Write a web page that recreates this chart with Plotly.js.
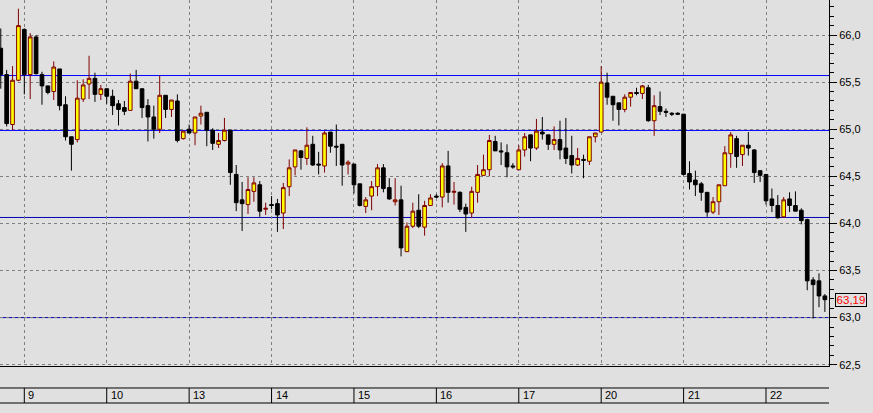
<!DOCTYPE html>
<html><head><meta charset="utf-8">
<script src="https://cdn.plot.ly/plotly-3.0.1.min.js"></script>
<style>html,body{margin:0;padding:0;background:#e0e0e0;overflow:hidden}</style>
</head><body><div id="chart" style="width:873px;height:413px"></div>
<script>
// OHLC of 141 consecutive bars (index 0 = first visible bar)
const open  = [65.86,65.58,65.05,65.52,66.06,65.58,65.98,65.58,65.46,65.40,
               65.64,65.26,64.92,64.89,65.32,65.48,65.54,65.37,65.43,65.35,
               65.27,65.23,65.20,65.51,65.43,65.25,65.13,65.00,65.36,65.21,
               65.30,64.90,65.00,64.96,65.14,65.18,64.99,64.84,64.88,64.99,
               64.52,64.25,64.20,64.34,64.41,64.15,64.20,64.21,64.11,64.39,
               64.60,64.77,64.69,64.84,64.63,64.61,64.97,64.82,64.84,64.63,
               64.63,64.42,64.18,64.29,64.39,64.59,64.38,64.23,64.25,63.70,
               63.97,64.14,63.96,64.19,64.29,64.28,64.61,64.33,64.33,64.17,
               64.11,64.33,64.51,64.57,64.87,64.77,64.75,64.61,64.57,64.78,
               64.94,64.80,64.97,64.94,64.84,64.89,64.80,64.72,64.62,64.68,
               64.66,64.92,64.97,65.49,65.35,65.28,65.21,65.34,65.39,65.38,
               65.44,65.09,65.24,65.19,65.17,65.17,65.16,64.53,64.46,64.42,
               64.33,64.12,64.23,64.40,64.74,64.90,64.73,64.83,64.78,64.56,
               64.52,64.26,64.19,64.07,64.26,64.19,64.14,64.04,63.40,63.39,
               63.23];
const high  = [66.07,65.63,65.67,66.28,66.07,66.02,66.00,65.61,65.46,65.72,
               65.64,65.35,64.92,65.52,65.53,65.78,65.60,65.47,65.43,65.42,
               65.31,65.30,65.59,65.63,65.43,65.32,65.25,65.57,65.36,65.31,
               65.37,64.98,65.05,65.13,65.25,65.18,65.01,64.96,65.12,64.99,
               64.62,64.44,64.49,64.49,64.45,64.22,64.29,64.26,64.43,64.68,
               64.78,64.78,65.02,64.93,64.76,64.98,64.97,65.05,64.84,64.67,
               64.63,64.42,64.28,64.45,64.63,64.63,64.48,64.48,64.40,64.01,
               64.22,64.31,64.24,64.31,64.31,64.64,64.77,64.44,64.34,64.21,
               64.39,64.62,64.73,64.94,64.93,64.86,64.84,64.64,64.83,64.96,
               64.94,65.11,65.13,64.94,65.03,65.09,65.12,64.93,64.80,64.73,
               64.92,64.96,65.67,65.60,65.35,65.28,65.37,65.39,65.44,65.47,
               65.47,65.36,65.40,65.22,65.18,65.18,65.16,64.66,64.56,64.44,
               64.33,64.28,64.41,64.82,64.97,64.93,64.83,64.97,64.79,64.56,
               64.52,64.37,64.30,64.28,64.33,64.34,64.16,64.05,63.43,63.47,
               63.25];
const low   = [65.43,65.03,64.99,65.51,65.37,65.32,65.58,65.26,65.37,65.31,
               65.20,64.88,64.56,64.86,65.29,65.32,65.29,65.31,65.27,65.15,
               65.04,65.15,65.20,65.43,65.12,64.87,64.90,64.96,65.12,65.13,
               64.86,64.89,64.96,64.83,65.05,64.82,64.78,64.80,64.87,64.41,
               64.13,63.92,64.10,64.23,64.07,64.09,64.15,63.91,63.94,64.29,
               64.51,64.57,64.62,64.61,64.52,64.54,64.75,64.61,64.40,64.52,
               64.32,64.18,64.11,64.14,64.29,64.33,64.25,64.19,63.65,63.70,
               63.95,63.95,63.87,64.19,64.27,64.17,64.22,64.20,64.12,63.91,
               64.06,64.22,64.51,64.50,64.77,64.62,64.49,64.58,64.57,64.71,
               64.66,64.78,64.89,64.78,64.78,64.68,64.63,64.53,64.61,64.48,
               64.62,64.86,64.97,65.26,65.09,65.04,65.18,65.24,65.36,65.32,
               65.08,64.93,65.15,65.13,65.14,65.15,64.51,64.36,64.29,64.24,
               64.07,64.10,64.09,64.40,64.59,64.59,64.61,64.72,64.43,64.44,
               64.20,64.12,64.05,64.06,64.12,64.13,63.99,63.29,62.99,63.11,
               63.06];
const close = [65.58,65.06,65.52,66.10,65.58,65.98,65.59,65.46,65.39,65.66,
               65.25,64.92,64.84,65.33,65.47,65.54,65.37,65.43,65.35,65.25,
               65.21,65.19,65.51,65.43,65.23,65.13,65.00,65.36,65.21,65.31,
               64.88,64.98,64.96,65.13,65.17,64.99,64.85,64.88,64.99,64.54,
               64.22,64.21,64.36,64.43,64.13,64.16,64.19,64.09,64.38,64.59,
               64.78,64.70,64.83,64.62,64.62,64.96,64.82,64.81,64.62,64.65,
               64.41,64.19,64.25,64.39,64.59,64.37,64.26,64.25,63.74,63.97,
               64.13,63.97,64.19,64.27,64.28,64.61,64.33,64.34,64.15,64.10,
               64.34,64.52,64.57,64.88,64.77,64.76,64.60,64.60,64.78,64.92,
               64.80,64.98,64.95,64.84,64.89,64.78,64.69,64.62,64.69,64.67,
               64.92,64.96,65.50,65.34,65.26,65.21,65.34,65.39,65.38,65.46,
               65.09,65.25,65.19,65.18,65.16,65.16,64.52,64.44,64.41,64.33,
               64.12,64.23,64.41,64.75,64.94,64.71,64.83,64.80,64.54,64.51,
               64.24,64.19,64.06,64.25,64.19,64.13,64.03,63.39,63.35,63.23,
               63.19];
const xIdx = open.map((_, i) => i);

// day separators: bar index where each trading day starts, and its label
const dayLabels = ['9','10','13','14','15','16','17','20','21','22'];
const dayStart  = [4, 18, 32, 46, 60, 74, 88, 102, 116, 130];

// horizontal price levels drawn across the chart
const levels      = [65.57, 64.987, 64.063, 63.0];
const levelColors = ['#0000ff', '#0000ff', '#0000b4', '#0000b4'];

const lastPrice = close[close.length - 1];

const FONT = 'Liberation Sans, Arial, sans-serif';
const stripTop = -0.0601, stripBot = -0.1011, stripMid = -0.0806;

const shapes = [];
levels.forEach((v, k) => shapes.push({
  type: 'line', xref: 'paper', x0: 0, x1: 1, yref: 'y', y0: v, y1: v,
  line: {color: levelColors[k], width: 1}, layer: 'between'
}));
[stripTop, stripBot].forEach(y => shapes.push({
  type: 'line', xref: 'paper', x0: 0, x1: 1, yref: 'paper', y0: y, y1: y,
  line: {color: '#000', width: 1}
}));
dayStart.forEach(d => shapes.push({
  type: 'line', xref: 'x', x0: d, x1: d, yref: 'paper', y0: stripTop, y1: stripBot,
  line: {color: '#000', width: 1}
}));

const annotations = dayLabels.map((t, k) => ({
  xref: 'x', x: dayStart[k], xanchor: 'left', xshift: 2,
  yref: 'paper', y: stripMid, yanchor: 'middle',
  text: t, showarrow: false, font: {family: FONT, size: 11, color: '#000'}
}));
annotations.push({
  xref: 'paper', x: 1, xanchor: 'left', xshift: 6,
  yref: 'y', y: lastPrice, yanchor: 'middle',
  text: lastPrice.toFixed(2).replace('.', ','), showarrow: false,
  font: {family: FONT, size: 11.5, color: '#ff0000'},
  bordercolor: '#000', borderwidth: 1, borderpad: 0, bgcolor: '#e0e0e0',
  width: 30, height: 11.5
});

const trace = {
  type: 'candlestick', x: xIdx, open: open, high: high, low: low, close: close,
  increasing: {line: {color: '#800000', width: 1}, fillcolor: '#ffff00'},
  decreasing: {line: {color: '#000000', width: 1}, fillcolor: '#000000'},
  whiskerwidth: 0, showlegend: false, hoverinfo: 'skip'
};

const layout = {
  width: 873, height: 413,
  margin: {l: 0, r: 44, t: 0, b: 47, pad: 0},
  paper_bgcolor: '#e0e0e0', plot_bgcolor: '#e0e0e0',
  separators: ',.',
  showlegend: false,
  boxgap: 0.38, boxgroupgap: 0,
  xaxis: {
    range: [-0.13, 140.7], tickmode: 'array', tickvals: dayStart,
    showticklabels: false, ticks: '',
    showgrid: true, gridcolor: '#808080', griddash: '3px,3px', gridwidth: 1,
    zeroline: false, showline: true, linecolor: '#000', linewidth: 1,
    rangeslider: {visible: false}, fixedrange: true
  },
  yaxis: {
    side: 'right', range: [62.486, 66.372],
    tickmode: 'linear', tick0: 62.5, dtick: 0.5, tickformat: '.1f',
    ticks: 'outside', ticklen: 7, tickwidth: 1, tickcolor: '#000',
    showline: true, linecolor: '#000', linewidth: 1,
    showgrid: true, gridcolor: '#808080', griddash: '3px,3px', gridwidth: 1,
    zeroline: false, fixedrange: true,
    minor: {tick0: 62.5, dtick: 0.1, ticks: 'outside', ticklen: 4,
            tickcolor: '#000', tickwidth: 1, showgrid: false},
    tickfont: {family: FONT, size: 11, color: '#000'}
  },
  shapes: shapes,
  annotations: annotations
};

Plotly.newPlot('chart', [trace], layout, {staticPlot: true, displayModeBar: false});
</script>
</body></html>
